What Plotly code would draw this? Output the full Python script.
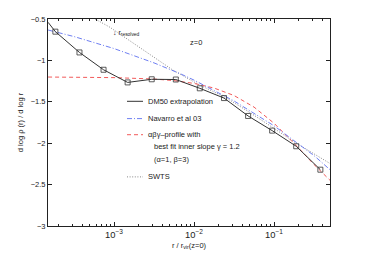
import plotly.graph_objects as go

# DM50 extrapolation (first point is the unmarked start at the left edge)
dm_r = [1.5e-4, 1.85e-4, 3.7e-4, 7.4e-4, 1.48e-3, 2.96e-3, 5.92e-3, 1.18e-2, 2.37e-2, 4.74e-2, 9.47e-2, 0.189, 0.379]
dm_s = [-0.54, -0.653, -0.904, -1.113, -1.266, -1.228, -1.231, -1.337, -1.455, -1.671, -1.848, -2.037, -2.320]
dm_marked = [False] + [True] * 12

# Navarro et al 03
nav_r = [1.5e-4, 3.16e-4, 1e-3, 3.16e-3, 6.7e-3, 1e-2, 3.16e-2, 0.1, 0.316, 0.5]
nav_s = [-0.633, -0.712, -0.857, -1.03, -1.16, -1.238, -1.49, -1.79, -2.15, -2.32]

# alpha-beta-gamma profile
abg_r = [1.5e-4, 1e-3, 3.16e-3, 5.62e-3, 1e-2, 1.78e-2, 3.16e-2, 5.62e-2, 0.1, 0.141, 0.2, 0.316, 0.5]
abg_s = [-1.201, -1.208, -1.225, -1.244, -1.278, -1.334, -1.424, -1.564, -1.759, -1.90, -2.052, -2.258, -2.448]

# SWTS
swts_r = [4.0e-4, 5.8e-4, 8.9e-4, 2.11e-3, 5.5e-3, 1.19e-2, 2.5e-2, 5.0e-2, 0.1, 0.19, 0.5]
swts_s = [-0.40, -0.50, -0.60, -0.845, -1.12, -1.30, -1.45, -1.63, -1.82, -2.0, -2.245]

FONT = "Liberation Sans, Arial, sans-serif"
BLACK = "#333333"
BLUE = "#6f7ff2"
RED = "#f25a5a"
GRAY = "#888888"

fig = go.Figure()
fig.add_trace(go.Scatter(x=swts_r, y=swts_s, mode="lines", line=dict(color=GRAY, width=1, dash="1px,1.6px"), showlegend=False))
fig.add_trace(go.Scatter(x=abg_r, y=abg_s, mode="lines", line=dict(color=RED, width=1, dash="4px,3px"), showlegend=False))
fig.add_trace(go.Scatter(x=nav_r, y=nav_s, mode="lines", line=dict(color=BLUE, width=1, dash="5px,2px,1px,2px"), showlegend=False))
fig.add_trace(go.Scatter(x=dm_r, y=dm_s, mode="lines", line=dict(color=BLACK, width=1), showlegend=False))
fig.add_trace(go.Scatter(x=[r for r, m in zip(dm_r, dm_marked) if m],
                         y=[s for s, m in zip(dm_s, dm_marked) if m],
                         mode="markers", showlegend=False,
                         marker=dict(symbol="square-open", size=5, color=BLACK, line=dict(width=0.8, color=BLACK))))

W, H = 365, 260
L, R, T, B = 48, 35, 19, 29
pw, ph = W - L - R, H - T - B


def px(x):
    return (x - L) / pw


def py(y):
    return 1 - (y - T) / ph


shapes = []
annotations = []
legend_items = [
    (103.3, BLACK, "solid", "DM50 extrapolation"),
    (121, BLUE, "5px,2px,1px,2px", "Navarro et al 03"),
    (137.5, RED, "4px,3px", "\u03b1\u03b2\u03b3\u2013profile with"),
    (180.7, GRAY, "1px,1.6px", "SWTS"),
]
for yy, col, dash, txt in legend_items:
    shapes.append(dict(type="line", xref="paper", yref="paper", x0=px(127), x1=px(143), y0=py(yy), y1=py(yy),
                       line=dict(color=col, width=1, dash=dash)))
    annotations.append(dict(xref="paper", yref="paper", x=px(145.5), y=py(yy), text=txt, showarrow=False,
                            xanchor="left", yanchor="middle", font=dict(size=7.5, color="#222", family=FONT)))
for yy, txt in [(150, "best fit inner slope \u03b3 = 1.2"), (163.3, "(\u03b1=1, \u03b2=3)")]:
    annotations.append(dict(xref="paper", yref="paper", x=px(151.5), y=py(yy), text=txt, showarrow=False,
                            xanchor="left", yanchor="middle", font=dict(size=7.5, color="#222", family=FONT)))

annotations.append(dict(xref="paper", yref="paper", x=px(196), y=py(43), text="z=0", showarrow=False,
                        xanchor="center", yanchor="middle", font=dict(size=7.5, color="#222", family=FONT)))
annotations.append(dict(xref="paper", yref="paper", x=px(111), y=py(33), text="\u2193 r<sub>resolved</sub>", showarrow=False,
                        xanchor="left", yanchor="middle", font=dict(size=7, color="#222", family=FONT)))

fig.update_layout(
    width=W, height=H,
    margin=dict(l=L, r=R, t=T, b=B, pad=0),
    paper_bgcolor="white", plot_bgcolor="white",
    font=dict(family=FONT, size=7.5, color="#222"),
    shapes=shapes, annotations=annotations,
    showlegend=False,
)
fig.update_xaxes(
    type="log", range=[-3.825, -0.301],
    showline=True, linecolor="#222", linewidth=1, mirror="allticks",
    ticks="inside", ticklen=4, tickcolor="#222",
    dtick=1, exponentformat="power", showexponent="all",
    minor=dict(ticks="inside", ticklen=2, dtick="D1", tickcolor="#222", showgrid=False),
    showgrid=False, zeroline=False,
    title=dict(text="r / r<sub>vir</sub>(z=0)", standoff=3, font=dict(size=7.5)),
    tickfont=dict(size=7.5),
)
fig.update_yaxes(
    range=[-3, -0.5],
    showline=True, linecolor="#222", linewidth=1, mirror="allticks",
    ticks="inside", ticklen=4, tickcolor="#222",
    tickvals=[-3, -2.5, -2, -1.5, -1, -0.5],
    ticktext=["\u22123", "\u22122.5", "\u22122", "\u22121.5", "\u22121", "\u22120.5"],
    showgrid=False, zeroline=False,
    title=dict(text="d log \u03c1 (r) / d log r", standoff=6, font=dict(size=7.5)),
    tickfont=dict(size=7.5),
)

fig.write_html("out.html", config={"displayModeBar": False},
               post_script="document.body.style.margin='0';document.body.style.padding='0';")
